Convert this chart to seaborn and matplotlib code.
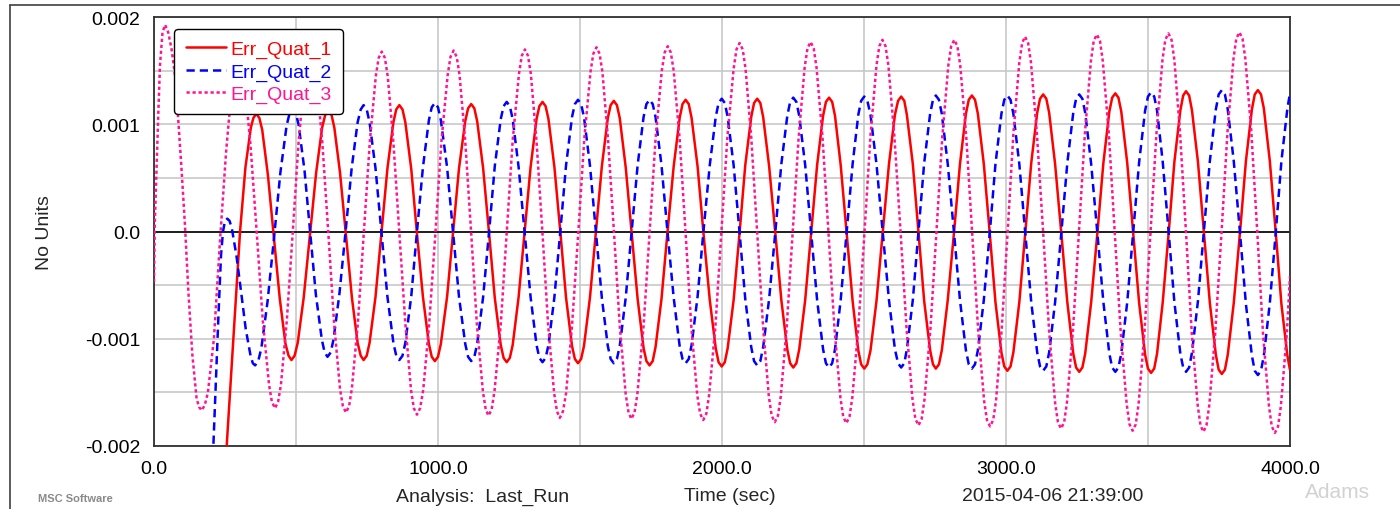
import numpy as np
import pandas as pd
import matplotlib
matplotlib.use("Agg")
import matplotlib.pyplot as plt
from matplotlib.lines import Line2D
import seaborn as sns

# ---------------- data (values in units of 1e-3) ----------------
series_names = ["Err_Quat_1", "Err_Quat_2", "Err_Quat_3"]
series_colors = ["#ff0000", "#0000ff", "#ff1493"]

t_quat1 = [228, 256, 280, 303, 322, 341, 350, 360,
           371, 381, 401, 422, 443, 463, 474, 484,
           495, 506, 527, 549, 571, 592, 603, 614,
           625, 635, 655, 676, 697, 717, 728, 738,
           749, 759, 780, 801, 822, 843, 853, 864,
           875, 885, 906, 926, 947, 968, 978, 989,
           1000, 1010, 1032, 1053, 1074, 1096, 1106, 1117,
           1128, 1138, 1159, 1180, 1200, 1221, 1231, 1242,
           1253, 1263, 1284, 1305, 1326, 1347, 1357, 1368,
           1379, 1389, 1410, 1431, 1451, 1472, 1482, 1493,
           1504, 1514, 1535, 1556, 1577, 1598, 1608, 1619,
           1630, 1640, 1661, 1682, 1703, 1724, 1734, 1745,
           1756, 1766, 1787, 1808, 1830, 1851, 1861, 1872,
           1883, 1893, 1914, 1935, 1957, 1978, 1988, 1999,
           2010, 2020, 2041, 2062, 2082, 2103, 2113, 2124,
           2135, 2145, 2166, 2188, 2209, 2230, 2240, 2251,
           2262, 2272, 2293, 2314, 2335, 2356, 2366, 2377,
           2388, 2398, 2418, 2439, 2460, 2480, 2490, 2501,
           2512, 2523, 2544, 2566, 2588, 2609, 2620, 2631,
           2642, 2651, 2672, 2692, 2712, 2733, 2743, 2753,
           2764, 2774, 2795, 2817, 2838, 2859, 2869, 2880,
           2891, 2901, 2922, 2943, 2963, 2984, 2994, 3005,
           3016, 3026, 3047, 3068, 3089, 3110, 3120, 3131,
           3142, 3152, 3173, 3195, 3216, 3237, 3247, 3258,
           3269, 3279, 3300, 3322, 3343, 3364, 3374, 3385,
           3396, 3406, 3427, 3448, 3469, 3490, 3500, 3511,
           3522, 3532, 3552, 3573, 3593, 3614, 3624, 3634,
           3645, 3655, 3676, 3697, 3718, 3739, 3749, 3760,
           3771, 3781, 3802, 3824, 3845, 3866, 3876, 3887,
           3898, 3908, 3929, 3950, 3970, 3991, 4000]
v_quat1 = [-3.10, -2.00, -0.98, 0.00, 0.60, 0.97, 1.06, 1.10,
           1.06, 0.95, 0.53, -0.05, -0.63, -1.05, -1.16, -1.20,
           -1.16, -1.04, -0.62, -0.04, 0.55, 0.97, 1.09, 1.13,
           1.09, 0.97, 0.55, -0.04, -0.62, -1.04, -1.16, -1.20,
           -1.16, -1.04, -0.61, -0.01, 0.59, 1.02, 1.14, 1.18,
           1.14, 1.02, 0.58, -0.02, -0.61, -1.05, -1.17, -1.21,
           -1.17, -1.05, -0.61, -0.01, 0.59, 1.03, 1.15, 1.19,
           1.15, 1.03, 0.59, -0.02, -0.62, -1.06, -1.18, -1.22,
           -1.18, -1.06, -0.61, -0.01, 0.60, 1.05, 1.17, 1.21,
           1.17, 1.05, 0.60, -0.01, -0.62, -1.07, -1.19, -1.23,
           -1.19, -1.07, -0.62, -0.01, 0.61, 1.06, 1.18, 1.22,
           1.18, 1.06, 0.60, -0.02, -0.63, -1.09, -1.21, -1.25,
           -1.21, -1.08, -0.63, -0.01, 0.61, 1.06, 1.19, 1.23,
           1.19, 1.06, 0.61, -0.02, -0.64, -1.09, -1.22, -1.26,
           -1.22, -1.09, -0.64, -0.01, 0.62, 1.07, 1.20, 1.24,
           1.20, 1.07, 0.61, -0.02, -0.64, -1.10, -1.23, -1.27,
           -1.23, -1.10, -0.64, -0.01, 0.62, 1.08, 1.21, 1.25,
           1.21, 1.08, 0.62, -0.02, -0.65, -1.11, -1.24, -1.28,
           -1.24, -1.11, -0.65, -0.01, 0.63, 1.09, 1.22, 1.26,
           1.22, 1.09, 0.63, -0.01, -0.65, -1.11, -1.24, -1.28,
           -1.24, -1.11, -0.64, -0.01, 0.63, 1.10, 1.23, 1.27,
           1.23, 1.10, 0.63, -0.02, -0.66, -1.13, -1.26, -1.30,
           -1.26, -1.13, -0.66, -0.01, 0.64, 1.11, 1.24, 1.28,
           1.24, 1.11, 0.63, -0.02, -0.66, -1.14, -1.27, -1.31,
           -1.27, -1.14, -0.66, -0.01, 0.64, 1.12, 1.25, 1.29,
           1.25, 1.12, 0.64, -0.02, -0.67, -1.15, -1.28, -1.32,
           -1.28, -1.14, -0.66, -0.01, 0.65, 1.13, 1.27, 1.31,
           1.27, 1.13, 0.65, -0.01, -0.67, -1.15, -1.29, -1.33,
           -1.29, -1.15, -0.67, -0.01, 0.66, 1.14, 1.28, 1.32,
           1.28, 1.15, 0.66, -0.01, -0.68, -1.16, -1.29]

t_quat2 = [190, 209, 218, 227, 236, 243, 250, 258,
           266, 274, 290, 307, 323, 340, 348, 356,
           367, 378, 400, 423, 445, 467, 478, 489,
           499, 509, 530, 550, 570, 591, 601, 611,
           622, 632, 653, 675, 696, 717, 728, 738,
           749, 759, 780, 801, 822, 843, 853, 864,
           875, 885, 906, 926, 947, 968, 978, 989,
           1000, 1010, 1032, 1053, 1074, 1096, 1106, 1117,
           1128, 1138, 1159, 1180, 1200, 1221, 1231, 1242,
           1253, 1263, 1284, 1305, 1326, 1347, 1357, 1368,
           1379, 1389, 1410, 1431, 1451, 1472, 1482, 1493,
           1504, 1514, 1535, 1556, 1577, 1598, 1608, 1619,
           1630, 1640, 1661, 1682, 1703, 1724, 1734, 1745,
           1756, 1766, 1787, 1808, 1830, 1851, 1861, 1872,
           1883, 1893, 1914, 1935, 1957, 1978, 1988, 1999,
           2010, 2020, 2041, 2062, 2082, 2103, 2113, 2124,
           2135, 2145, 2166, 2188, 2209, 2230, 2240, 2251,
           2262, 2272, 2293, 2314, 2335, 2356, 2366, 2377,
           2388, 2398, 2418, 2439, 2460, 2480, 2490, 2501,
           2512, 2523, 2544, 2566, 2588, 2609, 2620, 2631,
           2642, 2651, 2672, 2692, 2712, 2733, 2743, 2753,
           2764, 2774, 2795, 2817, 2838, 2859, 2869, 2880,
           2891, 2901, 2922, 2943, 2963, 2984, 2994, 3005,
           3016, 3026, 3047, 3068, 3089, 3110, 3120, 3131,
           3142, 3152, 3173, 3195, 3216, 3237, 3247, 3258,
           3269, 3279, 3300, 3322, 3343, 3364, 3374, 3385,
           3396, 3406, 3427, 3448, 3469, 3490, 3500, 3511,
           3522, 3532, 3552, 3573, 3593, 3614, 3624, 3634,
           3645, 3655, 3676, 3697, 3718, 3739, 3749, 3760,
           3771, 3781, 3802, 3824, 3845, 3866, 3876, 3887,
           3898, 3908, 3929, 3950, 3970, 3991, 4000]
v_quat2 = [-3.30, -2.00, -1.38, -0.78, -0.22, 0.00, 0.10, 0.12,
           0.10, 0.03, -0.22, -0.57, -0.91, -1.16, -1.23, -1.25,
           -1.21, -1.09, -0.65, -0.05, 0.55, 0.99, 1.11, 1.15,
           1.11, 1.00, 0.57, -0.01, -0.59, -1.01, -1.13, -1.17,
           -1.13, -1.01, -0.58, 0.01, 0.59, 1.02, 1.14, 1.18,
           1.14, 1.02, 0.59, -0.01, -0.61, -1.04, -1.16, -1.20,
           -1.16, -1.04, -0.60, 0.00, 0.60, 1.04, 1.16, 1.20,
           1.16, 1.04, 0.60, -0.01, -0.61, -1.05, -1.17, -1.21,
           -1.17, -1.05, -0.61, 0.00, 0.61, 1.05, 1.17, 1.21,
           1.17, 1.05, 0.60, -0.01, -0.61, -1.06, -1.18, -1.22,
           -1.18, -1.06, -0.61, 0.01, 0.62, 1.07, 1.19, 1.23,
           1.19, 1.07, 0.62, 0.00, -0.62, -1.07, -1.19, -1.23,
           -1.19, -1.07, -0.62, 0.00, 0.62, 1.07, 1.19, 1.23,
           1.19, 1.07, 0.62, 0.00, -0.62, -1.07, -1.19, -1.23,
           -1.19, -1.06, -0.61, 0.01, 0.62, 1.07, 1.20, 1.24,
           1.20, 1.07, 0.62, -0.01, -0.63, -1.08, -1.21, -1.25,
           -1.21, -1.08, -0.63, 0.00, 0.63, 1.08, 1.21, 1.25,
           1.21, 1.08, 0.62, -0.01, -0.64, -1.10, -1.23, -1.27,
           -1.23, -1.10, -0.64, -0.01, 0.63, 1.09, 1.22, 1.26,
           1.22, 1.09, 0.63, -0.01, -0.64, -1.10, -1.23, -1.27,
           -1.23, -1.10, -0.64, 0.00, 0.64, 1.10, 1.23, 1.27,
           1.23, 1.10, 0.63, -0.01, -0.64, -1.11, -1.24, -1.28,
           -1.24, -1.11, -0.64, -0.01, 0.63, 1.10, 1.23, 1.27,
           1.23, 1.10, 0.63, -0.02, -0.66, -1.13, -1.26, -1.30,
           -1.26, -1.13, -0.66, -0.01, 0.64, 1.11, 1.24, 1.28,
           1.24, 1.11, 0.63, -0.02, -0.66, -1.14, -1.27, -1.31,
           -1.27, -1.14, -0.66, -0.01, 0.65, 1.13, 1.26, 1.30,
           1.26, 1.13, 0.65, -0.01, -0.66, -1.14, -1.27, -1.31,
           -1.27, -1.13, -0.65, 0.01, 0.66, 1.14, 1.28, 1.32,
           1.28, 1.14, 0.66, -0.01, -0.68, -1.16, -1.30, -1.34,
           -1.30, -1.16, -0.67, -0.01, 0.66, 1.15, 1.29]

t_quat3 = [0, 3, 9, 15, 21, 30, 39, 50, 62, 74, 86, 97, 109, 121, 135, 150, 159, 168,
           179, 190, 211, 232, 254, 275, 286, 297,
           308, 319, 340, 362, 383, 405, 415, 426,
           437, 447, 468, 489, 509, 530, 540, 551,
           562, 572, 593, 614, 634, 655, 665, 676,
           687, 697, 718, 739, 760, 781, 791, 802,
           813, 823, 843, 864, 885, 905, 915, 926,
           937, 948, 969, 991, 1012, 1034, 1044, 1055,
           1066, 1076, 1096, 1117, 1137, 1158, 1168, 1178,
           1189, 1199, 1221, 1242, 1263, 1285, 1295, 1306,
           1317, 1327, 1347, 1368, 1388, 1409, 1419, 1429,
           1440, 1451, 1472, 1494, 1515, 1537, 1547, 1558,
           1569, 1579, 1599, 1620, 1640, 1661, 1671, 1681,
           1692, 1702, 1724, 1745, 1766, 1788, 1798, 1809,
           1820, 1830, 1851, 1872, 1892, 1913, 1923, 1934,
           1945, 1955, 1977, 1998, 2019, 2041, 2051, 2062,
           2073, 2083, 2103, 2124, 2145, 2165, 2175, 2186,
           2197, 2207, 2228, 2249, 2270, 2291, 2301, 2312,
           2323, 2333, 2354, 2375, 2396, 2417, 2427, 2438,
           2449, 2459, 2480, 2502, 2523, 2544, 2554, 2565,
           2576, 2586, 2607, 2629, 2650, 2671, 2681, 2692,
           2703, 2713, 2734, 2755, 2776, 2797, 2807, 2818,
           2829, 2839, 2860, 2881, 2902, 2923, 2933, 2944,
           2955, 2965, 2985, 3006, 3026, 3047, 3057, 3067,
           3078, 3088, 3109, 3131, 3152, 3173, 3183, 3194,
           3205, 3215, 3236, 3257, 3278, 3299, 3309, 3320,
           3331, 3341, 3362, 3383, 3404, 3425, 3435, 3446,
           3457, 3467, 3488, 3509, 3530, 3551, 3561, 3572,
           3583, 3593, 3613, 3634, 3654, 3675, 3685, 3695,
           3706, 3716, 3737, 3759, 3780, 3801, 3811, 3822,
           3833, 3843, 3864, 3885, 3905, 3926, 3936, 3947,
           3958, 3968, 3989, 4000]
v_quat3 = [-0.47, 0.09, 0.60, 1.09, 1.55, 1.86, 1.93, 1.86, 1.70, 1.46, 1.02, 0.58, 0.06, -0.56, -1.15, -1.56, -1.64, -1.67,
           -1.62, -1.50, -1.00, -0.10, 0.75, 1.38, 1.56, 1.62,
           1.56, 1.40, 0.80, -0.02, -0.83, -1.43, -1.59, -1.65,
           -1.59, -1.43, -0.82, 0.01, 0.83, 1.44, 1.60, 1.66,
           1.60, 1.44, 0.82, -0.02, -0.85, -1.47, -1.63, -1.69,
           -1.63, -1.46, -0.85, -0.01, 0.84, 1.45, 1.62, 1.68,
           1.62, 1.45, 0.83, -0.02, -0.86, -1.48, -1.65, -1.71,
           -1.65, -1.48, -0.86, -0.01, 0.84, 1.46, 1.63, 1.69,
           1.63, 1.46, 0.84, -0.02, -0.87, -1.49, -1.66, -1.72,
           -1.66, -1.49, -0.87, -0.01, 0.85, 1.47, 1.64, 1.70,
           1.64, 1.47, 0.84, -0.02, -0.88, -1.51, -1.68, -1.74,
           -1.68, -1.51, -0.88, -0.01, 0.86, 1.49, 1.66, 1.72,
           1.66, 1.49, 0.85, -0.02, -0.88, -1.52, -1.69, -1.75,
           -1.69, -1.52, -0.88, -0.01, 0.86, 1.50, 1.67, 1.73,
           1.67, 1.50, 0.86, -0.02, -0.89, -1.53, -1.70, -1.76,
           -1.70, -1.52, -0.88, 0.00, 0.88, 1.52, 1.70, 1.76,
           1.70, 1.52, 0.88, -0.01, -0.90, -1.54, -1.72, -1.78,
           -1.72, -1.54, -0.89, -0.01, 0.88, 1.53, 1.71, 1.77,
           1.71, 1.53, 0.88, -0.01, -0.90, -1.55, -1.73, -1.79,
           -1.73, -1.55, -0.90, 0.00, 0.90, 1.55, 1.73, 1.79,
           1.73, 1.55, 0.89, -0.01, -0.91, -1.57, -1.75, -1.81,
           -1.75, -1.57, -0.91, -0.01, 0.89, 1.55, 1.73, 1.79,
           1.73, 1.55, 0.89, -0.02, -0.92, -1.58, -1.76, -1.82,
           -1.76, -1.58, -0.91, 0.00, 0.91, 1.58, 1.76, 1.82,
           1.76, 1.58, 0.91, -0.01, -0.93, -1.60, -1.78, -1.84,
           -1.78, -1.59, -0.92, 0.00, 0.92, 1.59, 1.78, 1.84,
           1.78, 1.59, 0.92, -0.01, -0.94, -1.61, -1.80, -1.86,
           -1.80, -1.61, -0.93, -0.01, 0.92, 1.60, 1.79, 1.85,
           1.79, 1.60, 0.92, -0.01, -0.94, -1.62, -1.81, -1.87,
           -1.81, -1.62, -0.94, -0.01, 0.93, 1.61, 1.80, 1.86,
           1.80, 1.61, 0.93, -0.01, -0.95, -1.63, -1.82, -1.88,
           -1.82, -1.63, -0.95, -0.42]

x_major_ticks = [0, 1000, 2000, 3000, 4000]
x_tick_labels = ["0.0", "1000.0", "2000.0", "3000.0", "4000.0"]
x_minor_ticks = [500, 1500, 2500, 3500]
y_major_ticks = [-0.002, -0.001, 0.0, 0.001, 0.002]
y_tick_labels = ["-0.002", "-0.001", "0.0", "0.001", "0.002"]
y_minor_ticks = [-0.0015, -0.0005, 0.0005, 0.0015]

# ---------------- build table ----------------
frames = []
for name, t, v in zip(series_names, [t_quat1, t_quat2, t_quat3],
                      [v_quat1, v_quat2, v_quat3]):
    frames.append(pd.DataFrame({"time": t,
                                "value": np.asarray(v, dtype=float) * 1e-3,
                                "series": name}))
df = pd.concat(frames, ignore_index=True)

# ---------------- style ----------------
sns.set_style("white")
plt.rcParams["font.family"] = ["Liberation Sans", "DejaVu Sans"]

fig = plt.figure(figsize=(14, 5.1), dpi=100)
ax = fig.add_axes([0.11, 0.1241, 0.8114, 0.84])

palette = dict(zip(series_names, series_colors))
dashes = {"Err_Quat_1": "", "Err_Quat_2": (3.3, 2.0), "Err_Quat_3": (1.3, 1.1)}

sns.lineplot(data=df, x="time", y="value", hue="series", style="series",
             palette=palette, dashes=dashes, estimator=None, sort=False,
             linewidth=1.8, ax=ax, legend=True, zorder=3)

ax.set_xlim(0, 4000)
ax.set_ylim(-0.002, 0.002)
ax.set_xticks(x_major_ticks)
ax.set_xticklabels(x_tick_labels)
ax.set_xticks(x_minor_ticks, minor=True)
ax.set_yticks(y_major_ticks)
ax.set_yticklabels(y_tick_labels)
ax.set_yticks(y_minor_ticks, minor=True)

ax.set_axisbelow(True)
ax.grid(which="both", color="#c8c8c8", linewidth=1.2)
ax.axhline(0, color="black", linewidth=1.2, zorder=2)

ax.tick_params(which="both", direction="out", length=4.5, width=1.0,
               color="#303030", labelsize=14, labelcolor="black")
ax.tick_params(axis="y", pad=5.5)
ax.tick_params(axis="x", pad=6)
for sp in ax.spines.values():
    sp.set_color("#303030")
    sp.set_linewidth(1.3)

ax.set_xlabel("")
ax.set_ylabel("No Units", fontsize=14)
ax.yaxis.set_label_coords(-0.089, 0.5)

handles, labels = ax.get_legend_handles_labels()
leg = ax.legend(handles, labels, loc="upper left", bbox_to_anchor=(0.0176, 0.9727),
                borderaxespad=0, frameon=True, fancybox=True, framealpha=1,
                edgecolor="black", fontsize=14, handlelength=2.1,
                handletextpad=0.2, labelspacing=0.22, borderpad=0.6)
leg.get_frame().set_linewidth(1.0)
for txt, col in zip(leg.get_texts(), series_colors):
    txt.set_color(col)

# ---------------- footer / frame ----------------
yb = 1 - 497 / 510
fig.text(483 / 1400, yb, "Analysis:  Last_Run", ha="center", va="center", fontsize=14)
fig.text(730 / 1400, yb, "Time (sec)", ha="center", va="center", fontsize=14)
fig.text(1053 / 1400, yb, "2015-04-06 21:39:00", ha="center", va="center", fontsize=14)
fig.text(75 / 1400, 1 - 499 / 510, "MSC Software", ha="center", va="center",
         fontsize=8, color="#8a8a8a", fontweight="bold")
fig.text(1337 / 1400, 1 - 493 / 510, "Adams", ha="center", va="center",
         fontsize=15, color="#d2d2d2")

fig.add_artist(Line2D([10 / 1400, 10 / 1400], [0, 1 - 5.7 / 510],
                      transform=fig.transFigure, color="#404040", linewidth=1.2))
fig.add_artist(Line2D([10 / 1400, 1], [1 - 5.7 / 510, 1 - 5.7 / 510],
                      transform=fig.transFigure, color="#404040", linewidth=1.2))

fig.savefig("out.png", dpi=100)
